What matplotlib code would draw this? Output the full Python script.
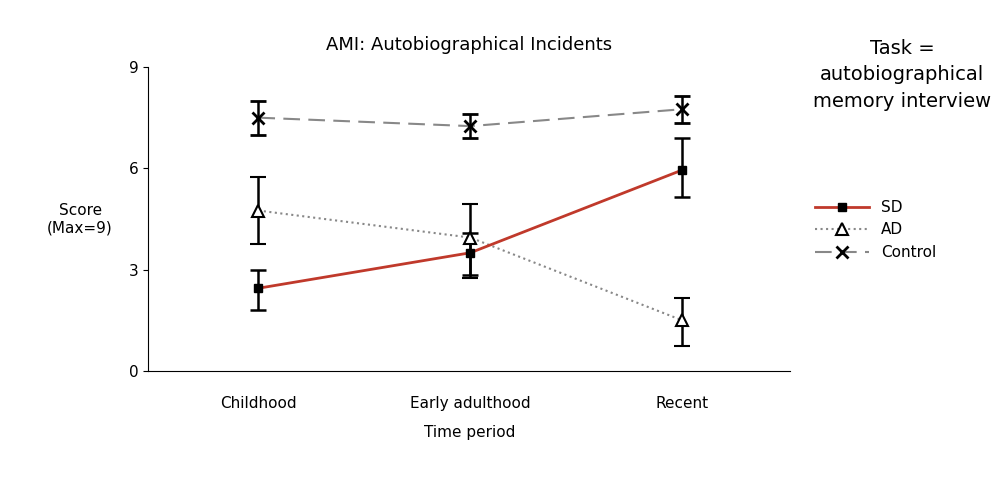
import matplotlib.pyplot as plt
from matplotlib.lines import Line2D

periods = ['Childhood', 'Early adulthood', 'Recent']
sd = [2.45, 3.5, 5.95]
sd_lo = [1.8, 2.85, 5.15]
sd_hi = [3.0, 4.1, 6.9]
ad = [4.75, 3.95, 1.5]
ad_lo = [3.75, 2.75, 0.75]
ad_hi = [5.75, 4.95, 2.15]
ctrl = [7.5, 7.25, 7.75]
ctrl_lo = [7.0, 6.9, 7.35]
ctrl_hi = [8.0, 7.6, 8.15]

fig = plt.figure(figsize=(10.08, 5), dpi=100)
ax = fig.add_axes([0.147, 0.258, 0.637, 0.608])
x = range(len(periods))

def err(v, lo, hi):
    return [[a - b for a, b in zip(v, lo)], [c - a for a, c in zip(v, hi)]]

ctrl_style = dict(color='#888888', ls=(0, (8, 4)), marker='x', mec='black', ms=9, mew=2)
ad_style = dict(color='#888888', ls=':', marker='^', mfc='white', mec='black', ms=9, mew=1.5)
sd_style = dict(color='#c0392b', ls='-', lw=2, marker='s', mfc='black', mec='black', ms=6)
eb = dict(ecolor='black', elinewidth=1.8, capsize=6, capthick=1.8)

ax.errorbar(x, ctrl, yerr=err(ctrl, ctrl_lo, ctrl_hi), **ctrl_style, **eb)
ax.errorbar(x, ad, yerr=err(ad, ad_lo, ad_hi), **ad_style, **eb)
ax.errorbar(x, sd, yerr=err(sd, sd_lo, sd_hi), **sd_style, **eb)

ax.set_xlim(-0.52, 2.51)
ax.set_ylim(0, 9)
ax.set_yticks([0, 3, 6, 9])
ax.set_xticks(list(x))
ax.set_xticklabels(periods, fontsize=11)
ax.tick_params(axis='x', length=0, pad=18)
ax.tick_params(axis='y', labelsize=11)
for s in ['top', 'right']:
    ax.spines[s].set_visible(False)
ax.set_xlabel('Time period', fontsize=11, labelpad=10)
ax.set_ylabel('Score\n(Max=9)', fontsize=11, rotation=0, labelpad=35, va='center')
ax.set_title('AMI: Autobiographical Incidents', fontsize=13, pad=12)

handles = [Line2D([], [], **sd_style), Line2D([], [], **ad_style), Line2D([], [], **ctrl_style)]
ax.legend(handles, ['SD', 'AD', 'Control'], loc='center left', bbox_to_anchor=(0.795, 0.54),
          bbox_transform=fig.transFigure, frameon=False, fontsize=11, handlelength=3.5)

fig.text(0.895, 0.85, 'Task =\nautobiographical\nmemory interview', ha='center', va='center',
         fontsize=14, linespacing=1.5)

fig.savefig('out.png')
